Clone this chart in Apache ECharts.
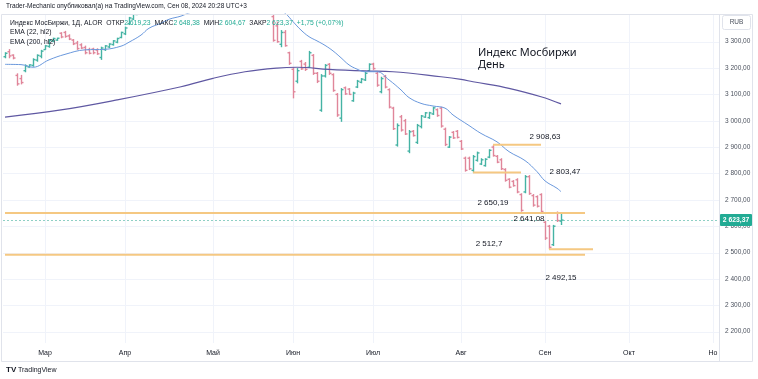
<!DOCTYPE html>
<html><head><meta charset="utf-8">
<script src="https://cdn.jsdelivr.net/npm/echarts@6/dist/echarts.min.js"></script>
<style>html,body{margin:0;padding:0;background:#fff}#c{width:758px;height:379px}</style>
</head><body><div id="c"></div>
<script>
// ---- data ----
const opens = [3243,3262,3249,3172,3160,3190,3204,3210,3230,3245,3270,3282,3302,3306,3332,3335,3322,3306,3295,3288,3278,3270,3272,3268,3240,3270,3280,3289,3298,3316,3330,3368,3386,3403,
3416,3432,3445,3438,3450,3462,3448,3455,3472,3460,3445,3435,3448,3462,3475,3465,3452,3440,3450,3466,3478,3470,3458,3470,3488,3498,3505,3512,3488,3462,3440,3425,3420,
3395,3360,3290,3335,3258,3195,3150,3225,3215,3203,3248,3180,3040,3170,3214,3175,3100,3010,3125,3120,3076,3128,3146,3155,3190,3215,3180,3110,3168,3118,3048,2908,3015,3000,2885,2960,2918,2978,3014,3012,3026,3042,3048,2968,2900,2956,2960,2922,2858,2858,2812,2850,2836,2830,2862,2900,2865,2852,2815,2778,2770,2776,2720,2730,2788,2716,2712,2720,2615,2600,2530,2650,2619.23];
const highs = [3260,3272,3252,3180,3174,3214,3214,3237,3252,3269,3287,3310,3315,3315,3336,3341,3328,3310,3303,3294,3285,3277,3277,3275,3281,3287,3294,3306,3315,3338,3357,3394,3409,3420,
3440,3450,3460,3455,3470,3475,3462,3480,3485,3470,3458,3452,3468,3480,3488,3472,3462,3455,3470,3482,3490,3478,3475,3492,3505,3512,3520,3516,3495,3470,3448,3436,3430,
3401,3376,3344,3344,3262,3202,3200,3231,3223,3265,3253,3185,3177,3215,3219,3180,3105,3124,3130,3124,3110,3155,3162,3185,3218,3220,3186,3167,3174,3123,3053,2990,3022,3007,2965,2965,2988,3022,3033,3034,3053,3047,3053,2974,2942,2961,2965,2927,2864,2864,2870,2883,2858,2858,2892,2908.63,2870,2858,2820,2782,2775,2782,2725,2794,2794,2722,2717,2725,2620,2605,2605,2656,2648.38];
const lows = [3237,3237,3233,3133,3138,3184,3201,3205,3224,3237,3269,3277,3298,3303,3313,3315,3306,3287,3269,3272,3252,3252,3252,3250,3231,3265,3275,3285,3294,3313,3325,3363,3382,3401,
3410,3425,3430,3428,3442,3440,3430,3450,3455,3440,3425,3428,3440,3455,3458,3445,3432,3430,3445,3460,3465,3450,3452,3466,3480,3490,3495,3480,3455,3432,3418,3416,3412,
3300,3296,3279,3281,3212,3085,3142,3193,3189,3200,3174,3143,3034,3164,3174,3110,3015,2996,3098,3098,3072,3124,3142,3151,3186,3193,3129,3104,3123,3047,2965,2902,2959,2946,2877,2940,2912,2971,3011,3007,3022,3015,2974,2904,2897,2931,2933,2889,2807,2813,2803.47,2845,2832,2826,2858,2864,2839,2813,2769,2744,2750,2725,2655,2725,2719,2674,2671,2650.19,2548,2512.7,2525,2616,2604.67];
const closes = [3256,3246,3238,3140,3145,3208,3212,3232,3248,3264,3284,3305,3312,3313,3318,3320,3310,3292,3274,3276,3258,3256,3258,3254,3276,3284,3291,3303,3312,3335,3352,3390,3404,3416,
3432,3445,3438,3450,3462,3448,3455,3472,3460,3445,3435,3448,3462,3475,3465,3452,3440,3450,3466,3478,3470,3458,3470,3488,3498,3505,3512,3488,3462,3440,3425,3420,3418,
3305,3300,3335,3285,3218,3110,3190,3197,3195,3258,3180,3150,3170,3210,3180,3115,3022,3118,3102,3100,3105,3150,3158,3180,3214,3198,3135,3160,3128,3052,2970,2982,2965,2950,2958,2944,2982,3018,3030,3030,3049,3020,2980,2910,2938,2935,2937,2893,2812,2818,2864,2878,2852,2854,2888,2868,2843,2818,2774,2748,2754,2730,2660,2788,2724,2680,2676,2656,2555,2520,2600,2621.62,2623.37];

const ema22Idx = [0,4,7,11,15,20,25,29,31,34,36,39,41,44,46,52,58,64,68,70,72,74,76,78,80,82,84,86,88,90,93,96,99,101,104,107,110,112,116,119,123,126,130,133,135,138,139];
const ema22Val = [3214,3213,3203,3231,3252,3269,3271,3283,3298,3325,3351,3370,3385,3397,3409,3432,3445,3440,3422,3408,3376,3344,3319,3303,3286,3265,3239,3212,3196,3186,3186,3155,3117,3088,3066,3056,3048,3022,2982,2952,2920,2883,2849,2807,2772,2744,2731];
const ema200Idx = [0,14,28,44,52,60,68,73,81,90,97,109,114,117,126,134,139];
const ema200Val = [3014,3041,3079,3129,3161,3186,3200,3203,3195,3189,3186,3167,3157,3148,3123,3091,3064];

const yTicks = [2200,2300,2400,2500,2600,2700,2800,2900,3000,3100,3200,3300];
const monthIdx = [10,30,52,72,92,114,135,156,177];
const monthLabels = ['Мар','Апр','Май','Июн','Июл','Авг','Сен','Окт','Но'];

const levelValues = [2908.63, 2803.47, 2650.19, 2512.7, 2492.15];
const levelFrom = [122, 117, 0, 136, 0];
const levelTo = [134, 129, 145, 147, 145];

const labelTexts = ['2 908,63','2 803,47','2 650,19','2 641,08','2 512,7','2 492,15'];
const labelIdx = [135, 140, 122, 131, 121, 139];
const labelPrice = [2938, 2806, 2690, 2629, 2535, 2405];

const lastPrice = 2623.37;
const SLOTS = 179;
const Y_MIN = 2157, Y_MAX = 3405;

// ---- styles ----
const UP = '#45b3a4', DOWN = '#e0869a';
const FONT = '"Liberation Sans", Arial, sans-serif';

const cats = Array.from({length: SLOTS}, (_, i) => String(i));
const ohlc = opens.map((o, i) => [i, o, highs[i], lows[i], closes[i]]);

function fmt(v) {
  const p = v.toFixed(2).split('.');
  return p[0].replace(/\B(?=(\d{3})+$)/g, ' ') + ',' + p[1];
}

const chart = echarts.init(document.getElementById('c'), null, {renderer: 'canvas'});

const option = {
  animation: false,
  backgroundColor: '#ffffff',
  grid: {left: 3, top: 14, width: 716, height: 329},
  xAxis: {
    type: 'category', data: cats, boundaryGap: true,
    axisLine: {show: false}, axisTick: {show: false}, splitLine: {show: false},
    axisLabel: {
      interval: (idx) => monthIdx.indexOf(idx) >= 0,
      formatter: (val) => { const k = monthIdx.indexOf(Number(val)); return k >= 0 ? monthLabels[k] : ''; },
      color: '#131722', fontSize: 7, fontFamily: FONT, margin: 7
    }
  },
  yAxis: {
    type: 'value', position: 'right', min: Y_MIN, max: Y_MAX, scale: true,
    axisLine: {show: false}, axisTick: {show: false}, splitLine: {show: false},
    axisLabel: {customValues: yTicks, formatter: (v) => fmt(v), color: '#4c525e', fontSize: 6.5, fontFamily: FONT, margin: 6}
  },
  series: [
    { // horizontal grid
      type: 'custom', name: 'hgrid', silent: true, z: 0,
      data: yTicks.map(v => [0, v]), encode: {x: 0, y: 1},
      renderItem: (params, api) => {
        const cs = params.coordSys; const p = api.coord([0, api.value(1)]);
        const y = Math.round(p[1]) + 0.5;
        return {type: 'line', shape: {x1: cs.x, y1: y, x2: cs.x + cs.width, y2: y}, style: {stroke: '#f0f3fa', lineWidth: 1}};
      }
    },
    { // vertical grid
      type: 'custom', name: 'vgrid', silent: true, z: 0,
      data: monthIdx.map(i => [i, Y_MIN]), encode: {x: 0, y: 1},
      renderItem: (params, api) => {
        const cs = params.coordSys; const p = api.coord([api.value(0), api.value(1)]);
        const x = Math.round(p[0]) + 0.5;
        return {type: 'line', shape: {x1: x, y1: cs.y, x2: x, y2: cs.y + cs.height}, style: {stroke: '#f0f3fa', lineWidth: 1}};
      }
    },
    { // last price dotted line
      type: 'custom', name: 'last', silent: true, z: 1,
      data: [[0, lastPrice]], encode: {x: 0, y: 1},
      renderItem: (params, api) => {
        const cs = params.coordSys; const p = api.coord([0, api.value(1)]);
        const y = Math.round(p[1]) + 0.5;
        return {type: 'line', shape: {x1: cs.x, y1: y, x2: cs.x + cs.width, y2: y}, style: {stroke: '#8fd0c5', lineWidth: 1, lineDash: [2, 2]}};
      }
    },
    { // OHLC bars
      type: 'custom', name: 'bars', clip: true, z: 2,
      data: ohlc, encode: {x: 0, y: [1, 2, 3, 4]},
      renderItem: (params, api) => {
        const i = api.value(0);
        const o = api.coord([i, api.value(1)]);
        const h = api.coord([i, api.value(2)]);
        const l = api.coord([i, api.value(3)]);
        const c = api.coord([i, api.value(4)]);
        const x = Math.round(o[0]) + 0.5;
        const col = api.value(4) >= api.value(1) ? UP : DOWN;
        const st = {stroke: col, lineWidth: 1.4};
        return {type: 'group', children: [
          {type: 'line', shape: {x1: x, y1: h[1], x2: x, y2: l[1]}, style: st},
          {type: 'line', shape: {x1: x - 2, y1: o[1], x2: x, y2: o[1]}, style: st},
          {type: 'line', shape: {x1: x, y1: c[1], x2: x + 2, y2: c[1]}, style: st}
        ]};
      }
    },
    {
      type: 'line', name: 'EMA200', z: 3, clip: true, smooth: 0.4, showSymbol: false, silent: true,
      data: ema200Idx.map((x, k) => [x, ema200Val[k]]),
      lineStyle: {color: '#5f58a2', width: 1.2}
    },
    {
      type: 'line', name: 'EMA22', z: 3, clip: true, smooth: 0.4, showSymbol: false, silent: true,
      data: ema22Idx.map((x, k) => [x, ema22Val[k]]),
      lineStyle: {color: '#6a98dc', width: 1}
    },
    { // level lines
      type: 'custom', name: 'levels', z: 4, silent: true, clip: true,
      data: levelValues.map((v, k) => [levelFrom[k], levelTo[k], v]), encode: {x: [0, 1], y: 2},
      renderItem: (params, api) => {
        const p1 = api.coord([api.value(0), api.value(2)]);
        const p2 = api.coord([api.value(1), api.value(2)]);
        return {type: 'line', shape: {x1: p1[0], y1: p1[1], x2: p2[0], y2: p2[1]}, style: {stroke: '#f5c882', lineWidth: 2}};
      }
    },
    { // level labels
      type: 'custom', name: 'levelLabels', z: 5, silent: true,
      data: labelIdx.map((x, k) => [x, labelPrice[k]]), encode: {x: 0, y: 1},
      renderItem: (params, api) => {
        const p = api.coord([api.value(0), api.value(1)]);
        return {type: 'text', x: p[0], y: p[1], style: {text: labelTexts[params.dataIndex], fill: '#131722', fontSize: 8, fontFamily: FONT, align: 'center', verticalAlign: 'middle'}};
      }
    }
  ]
};
chart.setOption(option);

const py = chart.convertToPixel({yAxisIndex: 0}, lastPrice);
chart.setOption({
  graphic: [
    {type: 'rect', shape: {x: 1.5, y: 14.5, width: 751, height: 347}, style: {fill: 'none', stroke: '#e0e3eb', lineWidth: 1}, silent: true, z: 10},
    {type: 'line', shape: {x1: 719.5, y1: 14, x2: 719.5, y2: 361}, style: {stroke: '#e0e3eb', lineWidth: 1}, silent: true, z: 10},
    {type: 'text', x: 6, y: 6, style: {text: 'Trader-Mechanic опубликовал(а) на TradingView.com, Сен 08, 2024 20:28 UTC+3', fill: '#131722', fontSize: 6.5, fontFamily: FONT, verticalAlign: 'middle'}, z: 10},
    {type: 'text', x: 10, y: 23, z: 10, style: {
      text: '{n|Индекс МосБиржи, 1Д, ALOR}  {l|ОТКР}{v|' + fmt(opens[opens.length-1]) + '}  {l|МАКС}{v|' + fmt(highs[highs.length-1]) + '}  {l|МИН}{v|' + fmt(lows[lows.length-1]) + '}  {l|ЗАКР}{v|' + fmt(closes[closes.length-1]) + '}  {v|+1,75 (+0,07%)}',
      verticalAlign: 'middle', fontSize: 6.8, fontFamily: FONT,
      rich: {n: {fill: '#131722', fontSize: 6.8, fontFamily: FONT}, l: {fill: '#131722', fontSize: 6.8, fontFamily: FONT}, v: {fill: '#22ab94', fontSize: 6.8, fontFamily: FONT}}
    }},
    {type: 'text', x: 10, y: 32.5, z: 10, style: {text: 'EMA (22, hl2)', fill: '#131722', fontSize: 6.8, fontFamily: FONT, verticalAlign: 'middle'}},
    {type: 'text', x: 10, y: 42, z: 10, style: {text: 'EMA (200, hl2)', fill: '#131722', fontSize: 6.8, fontFamily: FONT, verticalAlign: 'middle'}},
    {type: 'text', x: 478, y: 47, z: 10, style: {text: 'Индекс Мосбиржи\nДень', fill: '#131722', fontSize: 11, lineHeight: 12, fontFamily: '"Noto Sans", sans-serif'}},
    {type: 'rect', shape: {x: 722.5, y: 15.5, width: 28, height: 14, r: 2}, style: {fill: '#fff', stroke: '#e0e3eb', lineWidth: 1}, z: 10},
    {type: 'text', x: 736.5, y: 22.5, z: 11, style: {text: 'RUB', fill: '#4c525e', fontSize: 6.5, fontFamily: FONT, align: 'center', verticalAlign: 'middle'}},
    {type: 'rect', shape: {x: 720, y: Math.round(py) - 6, width: 32, height: 12, r: 1}, style: {fill: '#22ab94'}, z: 12},
    {type: 'text', x: 736, y: Math.round(py), z: 13, style: {text: fmt(lastPrice), fill: '#ffffff', fontSize: 6.8, fontWeight: 'bold', fontFamily: FONT, align: 'center', verticalAlign: 'middle'}},
    {type: 'text', x: 6, y: 370, z: 10, style: {text: 'TV', fill: '#131722', fontSize: 8, fontWeight: 'bold', fontFamily: FONT, verticalAlign: 'middle'}},
    {type: 'text', x: 18, y: 370, z: 10, style: {text: 'TradingView', fill: '#131722', fontSize: 7, fontFamily: FONT, verticalAlign: 'middle'}}
  ]
});
</script></body></html>
